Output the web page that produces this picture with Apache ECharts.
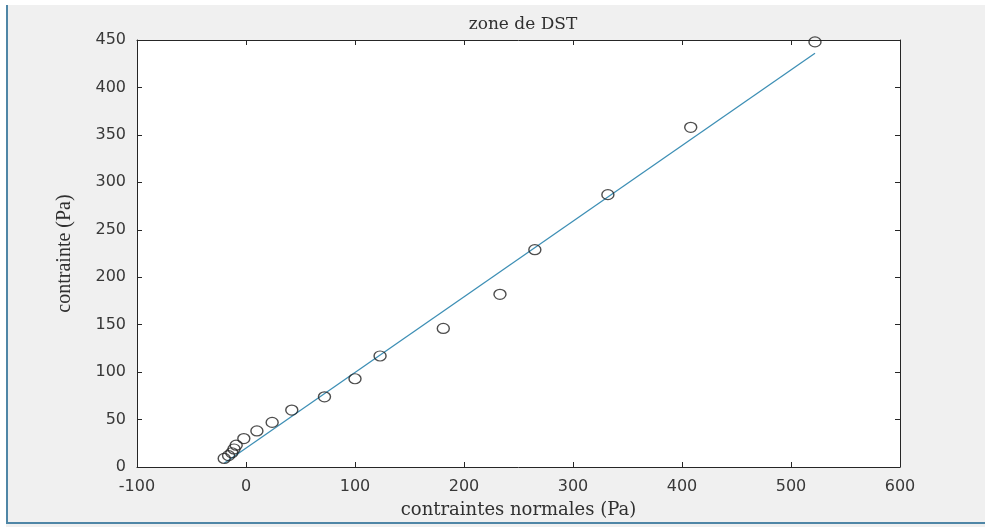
<!DOCTYPE html>
<html>
<head>
<meta charset="utf-8">
<script src="https://cdn.jsdelivr.net/npm/echarts@6/dist/echarts.min.js"></script>
<style>
html,body{margin:0;padding:0;background:#f0f0f0;}
#chart{width:985px;height:527px;}
</style>
</head>
<body>
<div id="chart"></div>
<script>
// Data
var title = "zone de DST";
var xName = "contraintes normales (Pa)";
var yName = "contrainte (Pa)";
var xTicks = [-100, 0, 100, 200, 300, 400, 500, 600];
var yTicks = [0, 50, 100, 150, 200, 250, 300, 350, 400, 450];
var normalStress = [-20, -16, -13, -11, -9, -2, 10, 24, 42, 72, 100, 123, 181, 233, 265, 332, 408, 522];
var stress       = [9, 12, 15, 19, 23, 30, 38, 47, 60, 74, 93, 117, 146, 182, 229, 287, 358, 448];
var fitX = [-20, 522];
var fitY = [4, 436];

var chart = echarts.init(document.getElementById('chart'));
var tickFont = {fontFamily: 'DejaVu Sans, Liberation Sans, sans-serif', fontSize: 16, color: '#383838'};
var serif = 'DejaVu Serif, Liberation Serif, serif';
var axisCol = '#262626';

function axisBase(extra) {
  return Object.assign({
    axisLine: {show: true, onZero: false, lineStyle: {color: axisCol, width: 1}},
    axisTick: {show: true, inside: true, length: 5, lineStyle: {color: axisCol}},
    splitLine: {show: false}
  }, extra);
}

chart.setOption({
  backgroundColor: '#f0f0f0',
  animation: false,
  title: {
    text: title, left: 518, top: 11, textAlign: 'center',
    textStyle: {fontFamily: serif, fontSize: 17, fontWeight: 'normal', color: '#303030'}
  },
  grid: {left: 137, right: 85, top: 40, bottom: 60, show: true, backgroundColor: '#ffffff', borderWidth: 0},
  xAxis: [
    axisBase({type: 'value', min: xTicks[0], max: xTicks[xTicks.length-1], interval: 100, position: 'bottom',
      name: xName, nameLocation: 'middle', nameGap: 34,
      nameTextStyle: {fontFamily: serif, fontSize: 18, color: '#303030'},
      axisLabel: Object.assign({margin: 12}, tickFont)}),
    axisBase({type: 'value', min: xTicks[0], max: xTicks[xTicks.length-1], interval: 100, position: 'top',
      axisLabel: {show: false}})
  ],
  yAxis: [
    axisBase({type: 'value', min: yTicks[0], max: yTicks[yTicks.length-1], interval: 50, position: 'left',
      name: yName, nameLocation: 'middle', nameGap: 62,
      nameTextStyle: {fontFamily: 'Liberation Serif, serif', fontSize: 20, color: '#303030'},
      axisLabel: Object.assign({margin: 11}, tickFont)}),
    axisBase({type: 'value', min: yTicks[0], max: yTicks[yTicks.length-1], interval: 50, position: 'right',
      axisLabel: {show: false}})
  ],
  graphic: [
    {type: 'rect', shape: {x: 0, y: 0, width: 985, height: 5}, style: {fill: '#ffffff'}, silent: true},
    {type: 'rect', shape: {x: 0, y: 0, width: 6, height: 527}, style: {fill: '#ffffff'}, silent: true},
    {type: 'line', shape: {x1: 7, y1: 5, x2: 7, y2: 524}, style: {stroke: '#4f86a6', lineWidth: 2}, silent: true},
    {type: 'line', shape: {x1: 7, y1: 523, x2: 985, y2: 523}, style: {stroke: '#4f86a6', lineWidth: 2}, silent: true}
  ],
  series: [
    {
      type: 'line', data: fitX.map(function (x, i) { return [x, fitY[i]]; }),
      showSymbol: false, symbol: 'none',
      lineStyle: {color: '#3d8fb5', width: 1.3}, z: 2
    },
    {
      type: 'scatter', data: normalStress.map(function (x, i) { return [x, stress[i]]; }),
      symbol: 'circle', symbolSize: [12, 10],
      itemStyle: {color: 'rgba(0,0,0,0)', borderColor: '#222222', borderWidth: 1.3}, z: 3
    }
  ]
});
</script>
</body>
</html>
